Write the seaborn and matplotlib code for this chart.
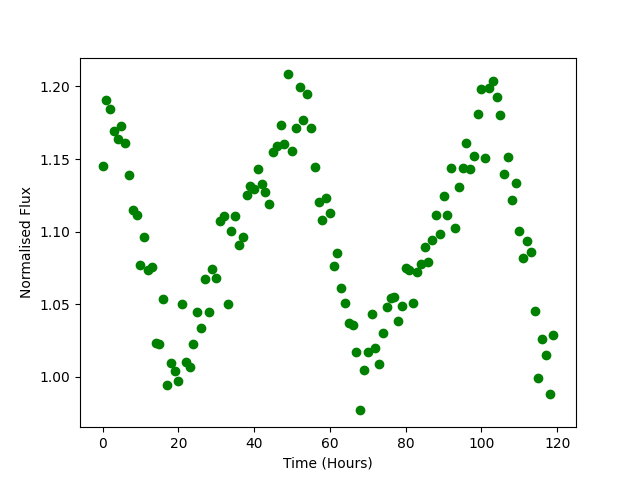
import pandas as pd
import matplotlib
matplotlib.use("Agg")
import matplotlib.pyplot as plt
import seaborn as sns

# time of each observation, hours
hours = [
    0, 1, 2, 3, 4, 5, 6, 7, 8, 9,
    10, 11, 12, 13, 14, 15, 16, 17, 18, 19,
    20, 21, 22, 23, 24, 25, 26, 27, 28, 29,
    30, 31, 32, 33, 34, 35, 36, 37, 38, 39,
    40, 41, 42, 43, 44, 45, 46, 47, 48, 49,
    50, 51, 52, 53, 54, 55, 56, 57, 58, 59,
    60, 61, 62, 63, 64, 65, 66, 67, 68, 69,
    70, 71, 72, 73, 74, 75, 76, 77, 78, 79,
    80, 81, 82, 83, 84, 85, 86, 87, 88, 89,
    90, 91, 92, 93, 94, 95, 96, 97, 98, 99,
    100, 101, 102, 103, 104, 105, 106, 107, 108, 109,
    110, 111, 112, 113, 114, 115, 116, 117, 118, 119,
]

# normalised flux
flux = [
    1.1455, 1.1909, 1.1847, 1.1696, 1.1636, 1.1730, 1.1613, 1.1393, 1.1152, 1.1117,
    1.0773, 1.0966, 1.0738, 1.0759, 1.0236, 1.0226, 1.0534, 0.9946, 1.0093, 1.0043,
    0.9974, 1.0504, 1.0100, 1.0070, 1.0229, 1.0449, 1.0339, 1.0676, 1.0449, 1.0740,
    1.0683, 1.1076, 1.1110, 1.0504, 1.1007, 1.1110, 1.0908, 1.0966, 1.1255, 1.1317,
    1.1296, 1.1434, 1.1328, 1.1275, 1.1193, 1.1551, 1.1590, 1.1737, 1.1601, 1.2083,
    1.1558, 1.1716, 1.1999, 1.1767, 1.1950, 1.1716, 1.1448, 1.1207, 1.1083, 1.1234,
    1.1131, 1.0766, 1.0855, 1.0609, 1.0511, 1.0373, 1.0360, 1.0174, 0.9769, 1.0050,
    1.0174, 1.0435, 1.0196, 1.0086, 1.0304, 1.0483, 1.0541, 1.0548, 1.0387, 1.0490,
    1.0752, 1.0733, 1.0511, 1.0724, 1.0775, 1.0897, 1.0793, 1.0940, 1.1117, 1.0981,
    1.1248, 1.1117, 1.1441, 1.1028, 1.1310, 1.1441, 1.1613, 1.1434, 1.1523, 1.1813,
    1.1985, 1.1510, 1.1992, 1.2040, 1.1930, 1.1806, 1.1399, 1.1517, 1.1220, 1.1337,
    1.1007, 1.0821, 1.0938, 1.0862, 1.0456, 0.9994, 1.0263, 1.0148, 0.9884, 1.0291,
]

df = pd.DataFrame({"time": hours, "flux": flux})

fig, ax = plt.subplots(figsize=(6.4, 4.8), dpi=100)
sns.scatterplot(data=df, x="time", y="flux", color="green",
                edgecolor="green", linewidth=1, s=36, ax=ax)

ax.set_xlabel("Time (Hours)")
ax.set_ylabel("Normalised Flux")

fig.savefig("out.png", dpi=100)
